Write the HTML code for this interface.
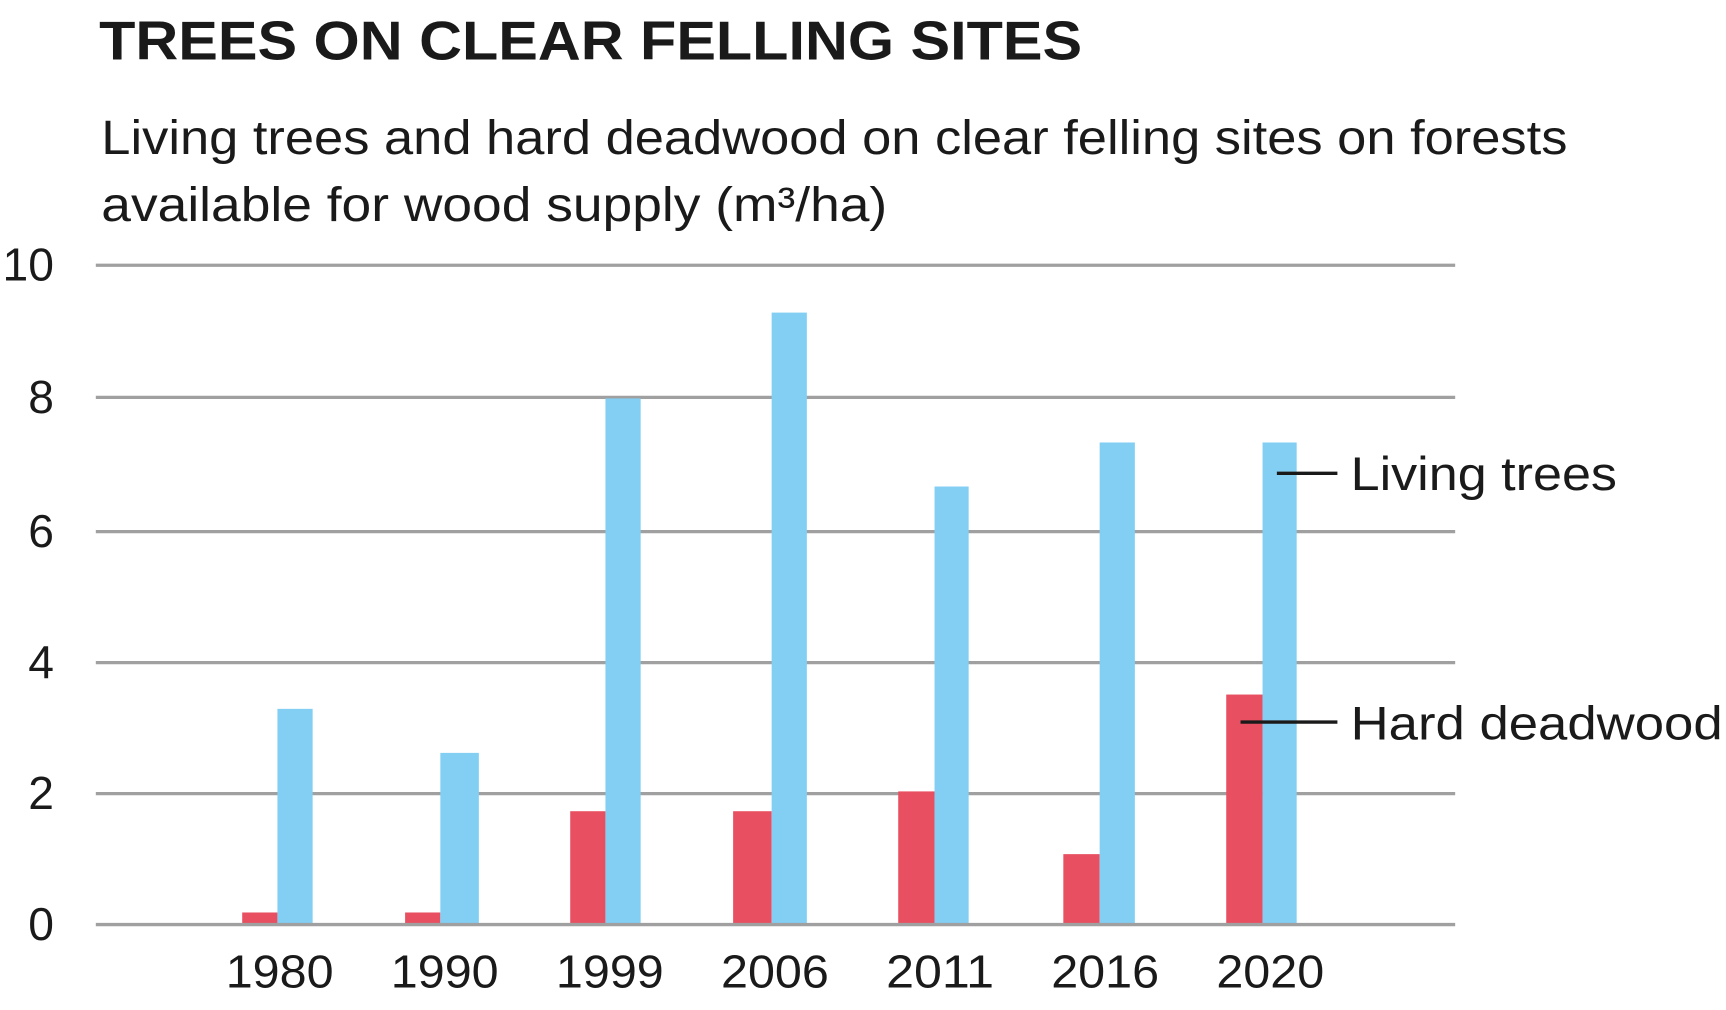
<!DOCTYPE html>
<html><head><meta charset="utf-8"><style>html,body{margin:0;padding:0;background:#fff}svg{display:block}</style></head>
<body>
<svg width="1726" height="1010" viewBox="0 0 1568 917.6" xmlns="http://www.w3.org/2000/svg" font-family="Liberation Sans, sans-serif" fill="#1a1a1a">
<text x="90" y="54" font-size="50" font-weight="bold" textLength="893" lengthAdjust="spacingAndGlyphs">TREES ON CLEAR FELLING SITES</text>
<text x="92" y="140" font-size="44" textLength="1332" lengthAdjust="spacingAndGlyphs">Living trees and hard deadwood on clear felling sites on forests</text>
<text x="92" y="201" font-size="44" textLength="714" lengthAdjust="spacingAndGlyphs">available for wood supply (m³/ha)</text>
<g stroke="#a0a0a0" stroke-width="3">
<line x1="87" x2="1322" y1="241" y2="241"/><line x1="87" x2="1322" y1="361" y2="361"/><line x1="87" x2="1322" y1="483" y2="483"/><line x1="87" x2="1322" y1="602" y2="602"/><line x1="87" x2="1322" y1="721" y2="721"/>
</g>
<g font-size="42" text-anchor="end">
<text x="49" y="255">10</text><text x="49" y="375">8</text><text x="49" y="497">6</text><text x="49" y="616">4</text><text x="49" y="735">2</text><text x="49" y="854">0</text>
</g>
<g fill="#e85061">
<rect x="220" y="829" width="32" height="10"/>
<rect x="368" y="829" width="32" height="10"/>
<rect x="518" y="737" width="32" height="102"/>
<rect x="666" y="737" width="35" height="102"/>
<rect x="816" y="719" width="33" height="120"/>
<rect x="966" y="776" width="33" height="63"/>
<rect x="1114" y="631" width="33" height="208"/>
</g>
<g fill="#83cff4">
<rect x="252" y="644" width="32" height="195"/>
<rect x="400" y="684" width="35" height="155"/>
<rect x="550" y="362" width="32" height="477"/>
<rect x="701" y="284" width="32" height="555"/>
<rect x="849" y="442" width="31" height="397"/>
<rect x="999" y="402" width="32" height="437"/>
<rect x="1147" y="402" width="31" height="437"/>
</g>
<line x1="87" x2="1322" y1="840" y2="840" stroke="#a0a0a0" stroke-width="3"/>
<g font-size="42">
<text x="205" y="897" textLength="98" lengthAdjust="spacingAndGlyphs">1980</text>
<text x="355" y="897" textLength="98" lengthAdjust="spacingAndGlyphs">1990</text>
<text x="505" y="897" textLength="98" lengthAdjust="spacingAndGlyphs">1999</text>
<text x="655" y="897" textLength="98" lengthAdjust="spacingAndGlyphs">2006</text>
<text x="805" y="897" textLength="98" lengthAdjust="spacingAndGlyphs">2011</text>
<text x="955" y="897" textLength="98" lengthAdjust="spacingAndGlyphs">2016</text>
<text x="1105" y="897" textLength="98" lengthAdjust="spacingAndGlyphs">2020</text>
</g>
<g stroke="#1a1a1a" stroke-width="3">
<line x1="1160" x2="1215" y1="430" y2="430"/>
<line x1="1127" x2="1215" y1="656" y2="656"/>
</g>
<text x="1227" y="445" font-size="43" textLength="242" lengthAdjust="spacingAndGlyphs">Living trees</text>
<text x="1227" y="672" font-size="43" textLength="338" lengthAdjust="spacingAndGlyphs">Hard deadwood</text>
</svg>
</body></html>
